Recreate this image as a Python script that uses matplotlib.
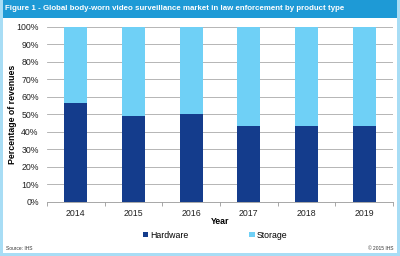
import matplotlib
matplotlib.use("Agg")
import matplotlib.pyplot as plt
from matplotlib.patches import Rectangle
import numpy as np

years = ["2014", "2015", "2016", "2017", "2018", "2019"]
hardware = [56.5, 49.0, 50.0, 43.5, 43.5, 43.5]
storage = [100 - h for h in hardware]
yticks = [0, 10, 20, 30, 40, 50, 60, 70, 80, 90, 100]

plt.rcParams['font.family'] = ['Liberation Sans', 'DejaVu Sans']

DARK = "#143C8C"
LIGHT = "#6FD0F6"
BAR_BLUE = "#1E9AD6"
BORDER = "#A8DDF5"

fig = plt.figure(figsize=(4, 2.56), dpi=100)
fig.patch.set_facecolor("white")

# title bar and border
fig.patches.append(Rectangle((0, 1 - 18/256), 1, 18/256, transform=fig.transFigure,
                             facecolor=BAR_BLUE, edgecolor="none", zorder=0))
fig.patches.append(Rectangle((0, 0), 3/400, 1, transform=fig.transFigure,
                             facecolor=BORDER, edgecolor="none", zorder=0))
fig.patches.append(Rectangle((1 - 3/400, 0), 3/400, 1, transform=fig.transFigure,
                             facecolor=BORDER, edgecolor="none", zorder=0))
fig.patches.append(Rectangle((0, 0), 1, 3/256, transform=fig.transFigure,
                             facecolor=BORDER, edgecolor="none", zorder=0))
fig.text(5/400, 1 - 9/256, "Figure 1 - Global body-worn video surveillance market in law enforcement by product type",
         color="white", fontsize=5.7, fontweight="bold", va="center", ha="left")

ax = fig.add_axes([47/400, 1 - 201.7/256, 346/400, 175/256])
x = np.arange(len(years))
ax.bar(x, hardware, width=0.4, color=DARK, zorder=3, label="Hardware")
ax.bar(x, storage, width=0.4, bottom=hardware, color=LIGHT, zorder=3, label="Storage")

ax.set_xlim(-0.5, len(years) - 0.5)
ax.set_ylim(0, 100)
ax.set_yticks(yticks)
ax.set_yticklabels([f"{v}%" for v in yticks], fontsize=6.3, color="#222222")
ax.set_xticks(x)
ax.set_xticklabels(years, fontsize=6.3, color="#222222")
ax.set_xticks(np.arange(-0.5, len(years), 1), minor=True)
ax.tick_params(axis="x", which="major", length=0, pad=5)
ax.tick_params(axis="x", which="minor", length=3, color="#999999", width=0.6)
ax.tick_params(axis="y", length=0, pad=6)
ax.grid(axis="y", color="#AAAAAA", linewidth=0.6, zorder=0)
for s in ["top", "right", "left"]:
    ax.spines[s].set_visible(False)
ax.spines["bottom"].set_color("#999999")
ax.spines["bottom"].set_linewidth(0.6)
ax.set_xlabel("Year", fontsize=6.3, fontweight="bold")
ax.xaxis.set_label_coords(0.5, -0.085)
ax.set_ylabel("Percentage of revenues", fontsize=6.3, fontweight="bold")
ax.yaxis.set_label_coords(-30/346, 0.5)

leg = fig.legend(loc="center", bbox_to_anchor=(215/400, 1 - 235/256), ncol=2, frameon=False,
                 fontsize=6.3, handlelength=0.6, handleheight=0.6, handletextpad=0.2,
                 columnspacing=7)

fig.text(6/400, 1 - 248/256, "Source: IHS", fontsize=3.5, color="#333333", va="center", ha="left")
fig.text(394/400, 1 - 248/256, "© 2015 IHS", fontsize=3.5, color="#333333", va="center", ha="right")

fig.savefig("out.png", dpi=100)
